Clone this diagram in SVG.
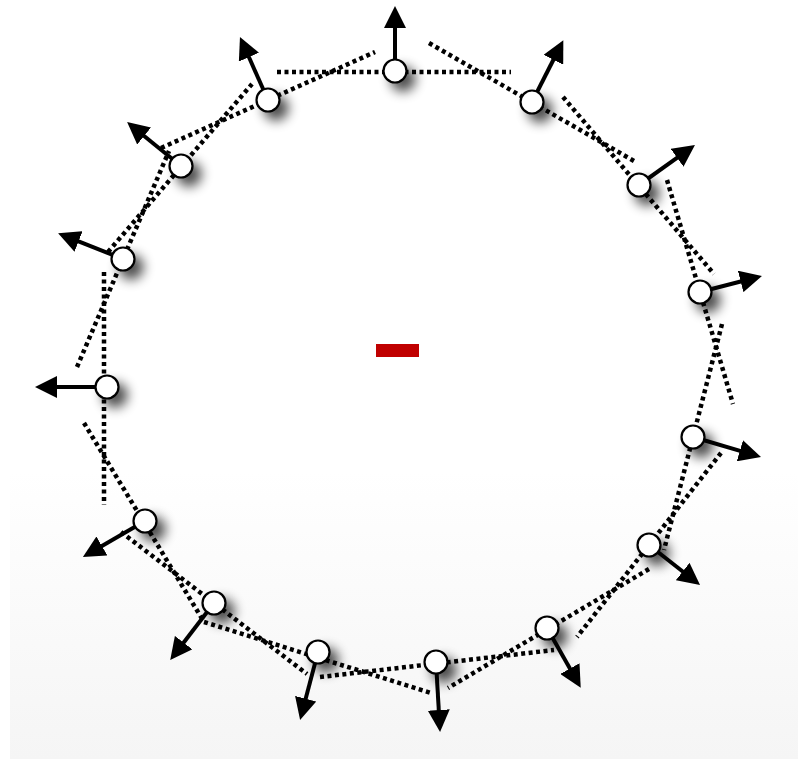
<svg xmlns="http://www.w3.org/2000/svg" width="798" height="759" viewBox="0 0 798 759">
<defs>
<linearGradient id="bg" x1="0" y1="0" x2="0" y2="1">
<stop offset="0" stop-color="#ffffff"/>
<stop offset="0.62" stop-color="#ffffff"/>
<stop offset="1" stop-color="#f5f5f5"/>
</linearGradient>
<filter id="sh" x="-200%" y="-200%" width="500%" height="500%">
<feGaussianBlur in="SourceAlpha" stdDeviation="6"/>
<feOffset dx="8" dy="8"/>
<feComponentTransfer><feFuncA type="linear" slope="0.7"/></feComponentTransfer>
<feMerge><feMergeNode/><feMergeNode in="SourceGraphic"/></feMerge>
</filter>
<marker id="ah" viewBox="0 0 22 22" refX="2" refY="11" markerWidth="22" markerHeight="22" markerUnits="userSpaceOnUse" orient="auto">
<path d="M0,0 L22,11 L0,22 Z" fill="#000"/>
</marker>
<style>
.tan{stroke:#000;stroke-width:4.5;stroke-dasharray:4 3.5;fill:none}
.nrm{stroke:#000;stroke-width:4;fill:none;marker-end:url(#ah)}
.nd{fill:#fff;stroke:#000;stroke-width:2.2;filter:url(#sh)}
</style>
</defs>
<rect x="10" y="0" width="788" height="759" fill="url(#bg)"/>
<g id="tangents">
<line class="tan" x1="277" y1="72" x2="511" y2="72"/>
<line class="tan" x1="429" y1="43" x2="634" y2="161"/>
<line class="tan" x1="563" y1="97" x2="714" y2="274"/>
<line class="tan" x1="667" y1="180" x2="733" y2="404"/>
<line class="tan" x1="722" y1="324" x2="664" y2="550"/>
<line class="tan" x1="721" y1="453" x2="577" y2="637"/>
<line class="tan" x1="649" y1="569" x2="448" y2="688"/>
<line class="tan" x1="320" y1="677" x2="554" y2="650"/>
<line class="tan" x1="204" y1="622" x2="431" y2="693"/>
<line class="tan" x1="121" y1="532" x2="307" y2="674"/>
<line class="tan" x1="84" y1="423" x2="204" y2="622"/>
<line class="tan" x1="104" y1="272" x2="104" y2="505"/>
<line class="tan" x1="77" y1="367" x2="169" y2="151"/>
<line class="tan" x1="108" y1="252" x2="252" y2="84"/>
<line class="tan" x1="161" y1="148" x2="375" y2="52"/>
</g>
<g id="normals">
<line class="nrm" x1="395" y1="71" x2="395" y2="26"/>
<line class="nrm" x1="532" y1="102" x2="554.3" y2="58.0"/>
<line class="nrm" x1="639" y1="185" x2="678.7" y2="156.6"/>
<line class="nrm" x1="700" y1="292" x2="742.6" y2="281.0"/>
<line class="nrm" x1="693" y1="437" x2="741.8" y2="451.3"/>
<line class="nrm" x1="649" y1="545" x2="684.3" y2="572.7"/>
<line class="nrm" x1="547" y1="628" x2="570.9" y2="670.3"/>
<line class="nrm" x1="436" y1="662" x2="438.9" y2="712.0"/>
<line class="nrm" x1="318" y1="652" x2="305.2" y2="700.6"/>
<line class="nrm" x1="214" y1="603" x2="182.4" y2="644.2"/>
<line class="nrm" x1="145" y1="521" x2="100.2" y2="547.0"/>
<line class="nrm" x1="107" y1="387" x2="55" y2="387"/>
<line class="nrm" x1="123" y1="259" x2="76.7" y2="240.7"/>
<line class="nrm" x1="181" y1="166" x2="142.6" y2="134.7"/>
<line class="nrm" x1="268" y1="100" x2="248.1" y2="55.3"/>
</g>
<g id="node1"><circle class="nd" cx="395" cy="71" r="11.5"/></g>
<g id="node2"><circle class="nd" cx="532" cy="102" r="11.5"/></g>
<g id="node3"><circle class="nd" cx="639" cy="185" r="11.5"/></g>
<g id="node4"><circle class="nd" cx="700" cy="292" r="11.5"/></g>
<g id="node5"><circle class="nd" cx="693" cy="437" r="11.5"/></g>
<g id="node6"><circle class="nd" cx="649" cy="545" r="11.5"/></g>
<g id="node7"><circle class="nd" cx="547" cy="628" r="11.5"/></g>
<g id="node8"><circle class="nd" cx="436" cy="662" r="11.5"/></g>
<g id="node9"><circle class="nd" cx="318" cy="652" r="11.5"/></g>
<g id="node10"><circle class="nd" cx="214" cy="603" r="11.5"/></g>
<g id="node11"><circle class="nd" cx="145" cy="521" r="11.5"/></g>
<g id="node12"><circle class="nd" cx="107" cy="387" r="11.5"/></g>
<g id="node13"><circle class="nd" cx="123" cy="259" r="11.5"/></g>
<g id="node14"><circle class="nd" cx="181" cy="166" r="11.5"/></g>
<g id="node15"><circle class="nd" cx="268" cy="100" r="11.5"/></g>
<g id="minus"><rect x="376" y="344" width="43" height="13" fill="#c00000"/></g>
</svg>
